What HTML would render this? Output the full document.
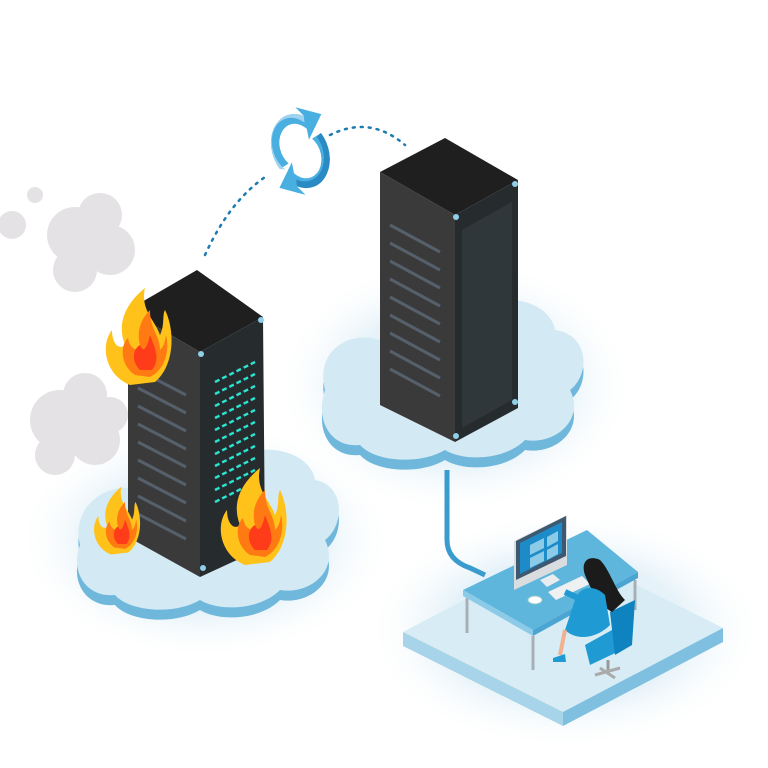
<!DOCTYPE html>
<html><head><style>html,body{margin:0;padding:0;background:#fff}svg{display:block}</style></head>
<body>
<svg width="768" height="768" viewBox="0 0 768 768" xmlns="http://www.w3.org/2000/svg">
<defs>
<radialGradient id="halo" cx="50%" cy="50%" r="50%">
<stop offset="60%" stop-color="#e3f1f8" stop-opacity="0.9"/>
<stop offset="100%" stop-color="#ffffff" stop-opacity="0"/>
</radialGradient>
</defs>
<rect width="768" height="768" fill="#fff"/>
<ellipse cx="205" cy="540" rx="190" ry="120" fill="url(#halo)"/>
<ellipse cx="455" cy="385" rx="180" ry="130" fill="url(#halo)"/>
<ellipse cx="565" cy="630" rx="200" ry="120" fill="url(#halo)"/>
<g fill="#e4e2e4">
<circle cx="12" cy="225" r="14"/><circle cx="35" cy="195" r="8"/>
<circle cx="75" cy="235" r="28"/><circle cx="100" cy="215" r="22"/><circle cx="110" cy="250" r="25"/><circle cx="75" cy="270" r="22"/>
<circle cx="60" cy="420" r="30"/><circle cx="85" cy="395" r="22"/><circle cx="95" cy="440" r="25"/><circle cx="55" cy="455" r="20"/><circle cx="110" cy="415" r="18"/>
</g>
<g>
<path d="M80,545 C70,505 110,480 140,490 C150,455 200,440 230,460 C260,440 310,450 315,480 C345,485 345,525 325,540 C340,570 310,595 280,590 C260,610 220,612 200,600 C175,615 130,612 115,595 C85,598 70,570 80,545Z" fill="#6fb8dc" transform="translate(0,10)"/>
<path d="M80,545 C70,505 110,480 140,490 C150,455 200,440 230,460 C260,440 310,450 315,480 C345,485 345,525 325,540 C340,570 310,595 280,590 C260,610 220,612 200,600 C175,615 130,612 115,595 C85,598 70,570 80,545Z" fill="#d3eaf4"/>
</g>
<g>
<path d="M325,390 C315,350 350,330 380,340 C390,305 440,290 470,310 C500,290 550,300 555,330 C590,335 590,375 570,390 C585,420 555,445 525,440 C505,460 465,462 445,450 C420,465 375,462 360,445 C330,448 315,420 325,390Z" fill="#6fb8dc" transform="translate(0,10)"/>
<path d="M325,390 C315,350 350,330 380,340 C390,305 440,290 470,310 C500,290 550,300 555,330 C590,335 590,375 570,390 C585,420 555,445 525,440 C505,460 465,462 445,450 C420,465 375,462 360,445 C330,448 315,420 325,390Z" fill="#d3eaf4"/>
</g>
<polygon points="403,632 563,548 723,628 563,712" fill="#d7ecf5"/>
<polygon points="403,632 563,712 563,726 403,646" fill="#a8d4ea"/>
<polygon points="563,712 723,628 723,642 563,726" fill="#7fc0e0"/>
<path d="M447,470 L447,540 Q447,560 470,568 L485,575" stroke="#3a9bcf" stroke-width="5" fill="none"/>
<path d="M205,255 Q230,200 268,175" stroke="#1d7bb0" stroke-width="2.5" stroke-dasharray="2,6" fill="none" stroke-linecap="round"/>
<path d="M330,135 Q370,115 405,145" stroke="#1d7bb0" stroke-width="2.5" stroke-dasharray="2,6" fill="none" stroke-linecap="round"/>
<g transform="translate(300,150) rotate(-20) scale(0.85,1.1)">
<path d="M-30,10 A32,32 0 0 1 18,-28 L12,-38 L38,-24 L14,-6 L16,-16 A20,20 0 0 0 -18,8 Z" fill="#49aee0"/>
<path d="M30,-8 A32,32 0 0 1 -18,30 L-12,40 L-38,26 L-14,8 L-16,18 A20,20 0 0 0 18,-6 Z" fill="#49aee0"/>
<path d="M-30,10 A32,32 0 0 1 18,-28 L16,-22 A26,26 0 0 0 -24,12Z" fill="#9fd3ef"/>
<path d="M30,-8 A32,32 0 0 1 -18,30 L-16,24 A26,26 0 0 0 24,-6Z" fill="#2a8bc4"/>
</g>
<polygon points="128,310 197,270 263,317 200,352" fill="#1f1f1f"/>
<polygon points="128,310 200,352 200,577 128,537" fill="#3a3a3a"/>
<polygon points="200,352 263,317 265,547 200,577" fill="#262b2e"/>
<g stroke="#55606c" stroke-width="3">
<line x1="138" y1="370" x2="186" y2="395"/><line x1="138" y1="388" x2="186" y2="413"/><line x1="138" y1="406" x2="186" y2="431"/><line x1="138" y1="424" x2="186" y2="449"/><line x1="138" y1="442" x2="186" y2="467"/><line x1="138" y1="460" x2="186" y2="485"/><line x1="138" y1="478" x2="186" y2="503"/><line x1="138" y1="496" x2="186" y2="521"/><line x1="138" y1="514" x2="186" y2="539"/>
</g>
<g stroke="#2ee0d0" stroke-width="2.5" stroke-dasharray="5,3">
<line x1="215" y1="382" x2="255" y2="362"/><line x1="215" y1="394" x2="255" y2="374"/><line x1="215" y1="406" x2="255" y2="386"/><line x1="215" y1="418" x2="255" y2="398"/><line x1="215" y1="430" x2="255" y2="410"/><line x1="215" y1="442" x2="255" y2="422"/><line x1="215" y1="454" x2="255" y2="434"/><line x1="215" y1="466" x2="255" y2="446"/><line x1="215" y1="478" x2="255" y2="458"/><line x1="215" y1="490" x2="255" y2="470"/><line x1="215" y1="502" x2="255" y2="482"/>
</g>
<g fill="#8fd0e8"><circle cx="201" cy="354" r="3"/><circle cx="261" cy="320" r="3"/><circle cx="203" cy="568" r="3"/></g>
<polygon points="380,172 445,138 518,180 455,215" fill="#1f1f1f"/>
<polygon points="380,172 455,215 455,442 380,405" fill="#3a3a3a"/>
<polygon points="455,215 518,180 518,408 455,442" fill="#262b2e"/>
<polygon points="462,230 512,202 512,400 462,428" fill="#30373b"/>
<g stroke="#55606c" stroke-width="3">
<line x1="390" y1="225" x2="440" y2="252"/><line x1="390" y1="243" x2="440" y2="270"/><line x1="390" y1="261" x2="440" y2="288"/><line x1="390" y1="279" x2="440" y2="306"/><line x1="390" y1="297" x2="440" y2="324"/><line x1="390" y1="315" x2="440" y2="342"/><line x1="390" y1="333" x2="440" y2="360"/><line x1="390" y1="351" x2="440" y2="378"/><line x1="390" y1="369" x2="440" y2="396"/>
</g>
<g fill="#8fd0e8"><circle cx="456" cy="217" r="3"/><circle cx="515" cy="184" r="3"/><circle cx="456" cy="436" r="3"/><circle cx="515" cy="402" r="3"/></g>
<g id="fl">
<path d="M130,385 C105,375 100,345 112,330 C112,345 120,350 125,345 C115,320 130,300 145,288 C140,310 155,320 160,335 C165,325 162,315 165,310 C175,330 175,365 155,382 Z" fill="#ffc21a"/>
<path d="M135,375 C120,365 120,345 128,338 C130,350 138,352 140,345 C136,330 142,318 150,310 C150,330 160,335 160,350 C165,345 165,340 166,335 C170,350 165,370 150,377Z" fill="#ff7a12"/>
<path d="M140,370 C130,360 134,348 140,345 C144,355 148,345 150,335 C156,350 160,360 152,370Z" fill="#ff3c1a"/>
</g>
<use href="#fl" transform="translate(115,180)"/>
<use href="#fl" transform="translate(20,285) scale(0.7)"/>
<g stroke="#a9b0b5" stroke-width="3">
<line x1="467" y1="598" x2="467" y2="633"/><line x1="533" y1="636" x2="533" y2="670"/><line x1="635" y1="580" x2="635" y2="610"/>
</g>
<polygon points="463,590 587,530 638,572 533,630" fill="#5fb6dd"/>
<polygon points="463,590 533,630 533,636 463,596" fill="#8ccbe8"/>
<polygon points="533,630 638,572 638,578 533,636" fill="#4aa5d2"/>
<polygon points="514,541 567,515 567,565 514,590" fill="#d9dde0"/>
<polygon points="516,541 566,516 566,556 516,580" fill="#3e5870"/>
<polygon points="520,543 562,522 562,553 520,574" fill="#1d8bc8"/>
<g fill="#8ccbe8"><polygon points="530,545 544,538 544,548 530,555"/><polygon points="547,537 558,531 558,541 547,547"/><polygon points="530,558 544,551 544,561 530,568"/><polygon points="547,550 558,544 558,554 547,560"/></g>
<polygon points="540,580 553,574 560,580 547,587" fill="#e8ecee"/>
<polygon points="548,592 582,576 590,584 556,600" fill="#eef0f2"/>
<ellipse cx="535" cy="600" rx="7" ry="4" fill="#fff" stroke="#9cc" stroke-width="1"/>
<polygon points="585,645 630,620 632,645 590,665" fill="#1f9ad3"/>
<polygon points="610,612 635,600 632,645 615,655" fill="#0f82c0"/>
<line x1="608" y1="660" x2="608" y2="672" stroke="#999" stroke-width="3"/>
<path d="M595,675 L620,668 M600,668 L615,678" stroke="#aaa" stroke-width="3"/>
<path d="M585,575 C580,560 590,555 600,560 C610,570 615,590 625,600 L612,612 C600,605 592,592 585,575Z" fill="#1b1b1b"/>
<path d="M575,600 C580,585 595,585 605,595 L610,625 C595,640 575,640 565,630 Z" fill="#1f9ad3"/>
<path d="M565,630 L560,655" stroke="#f2b08f" stroke-width="4"/>
<path d="M553,658 L565,654 L566,662 L553,662Z" fill="#1f9ad3"/>
<path d="M578,598 L565,592" stroke="#1f9ad3" stroke-width="6"/>
</svg>
</body></html>
